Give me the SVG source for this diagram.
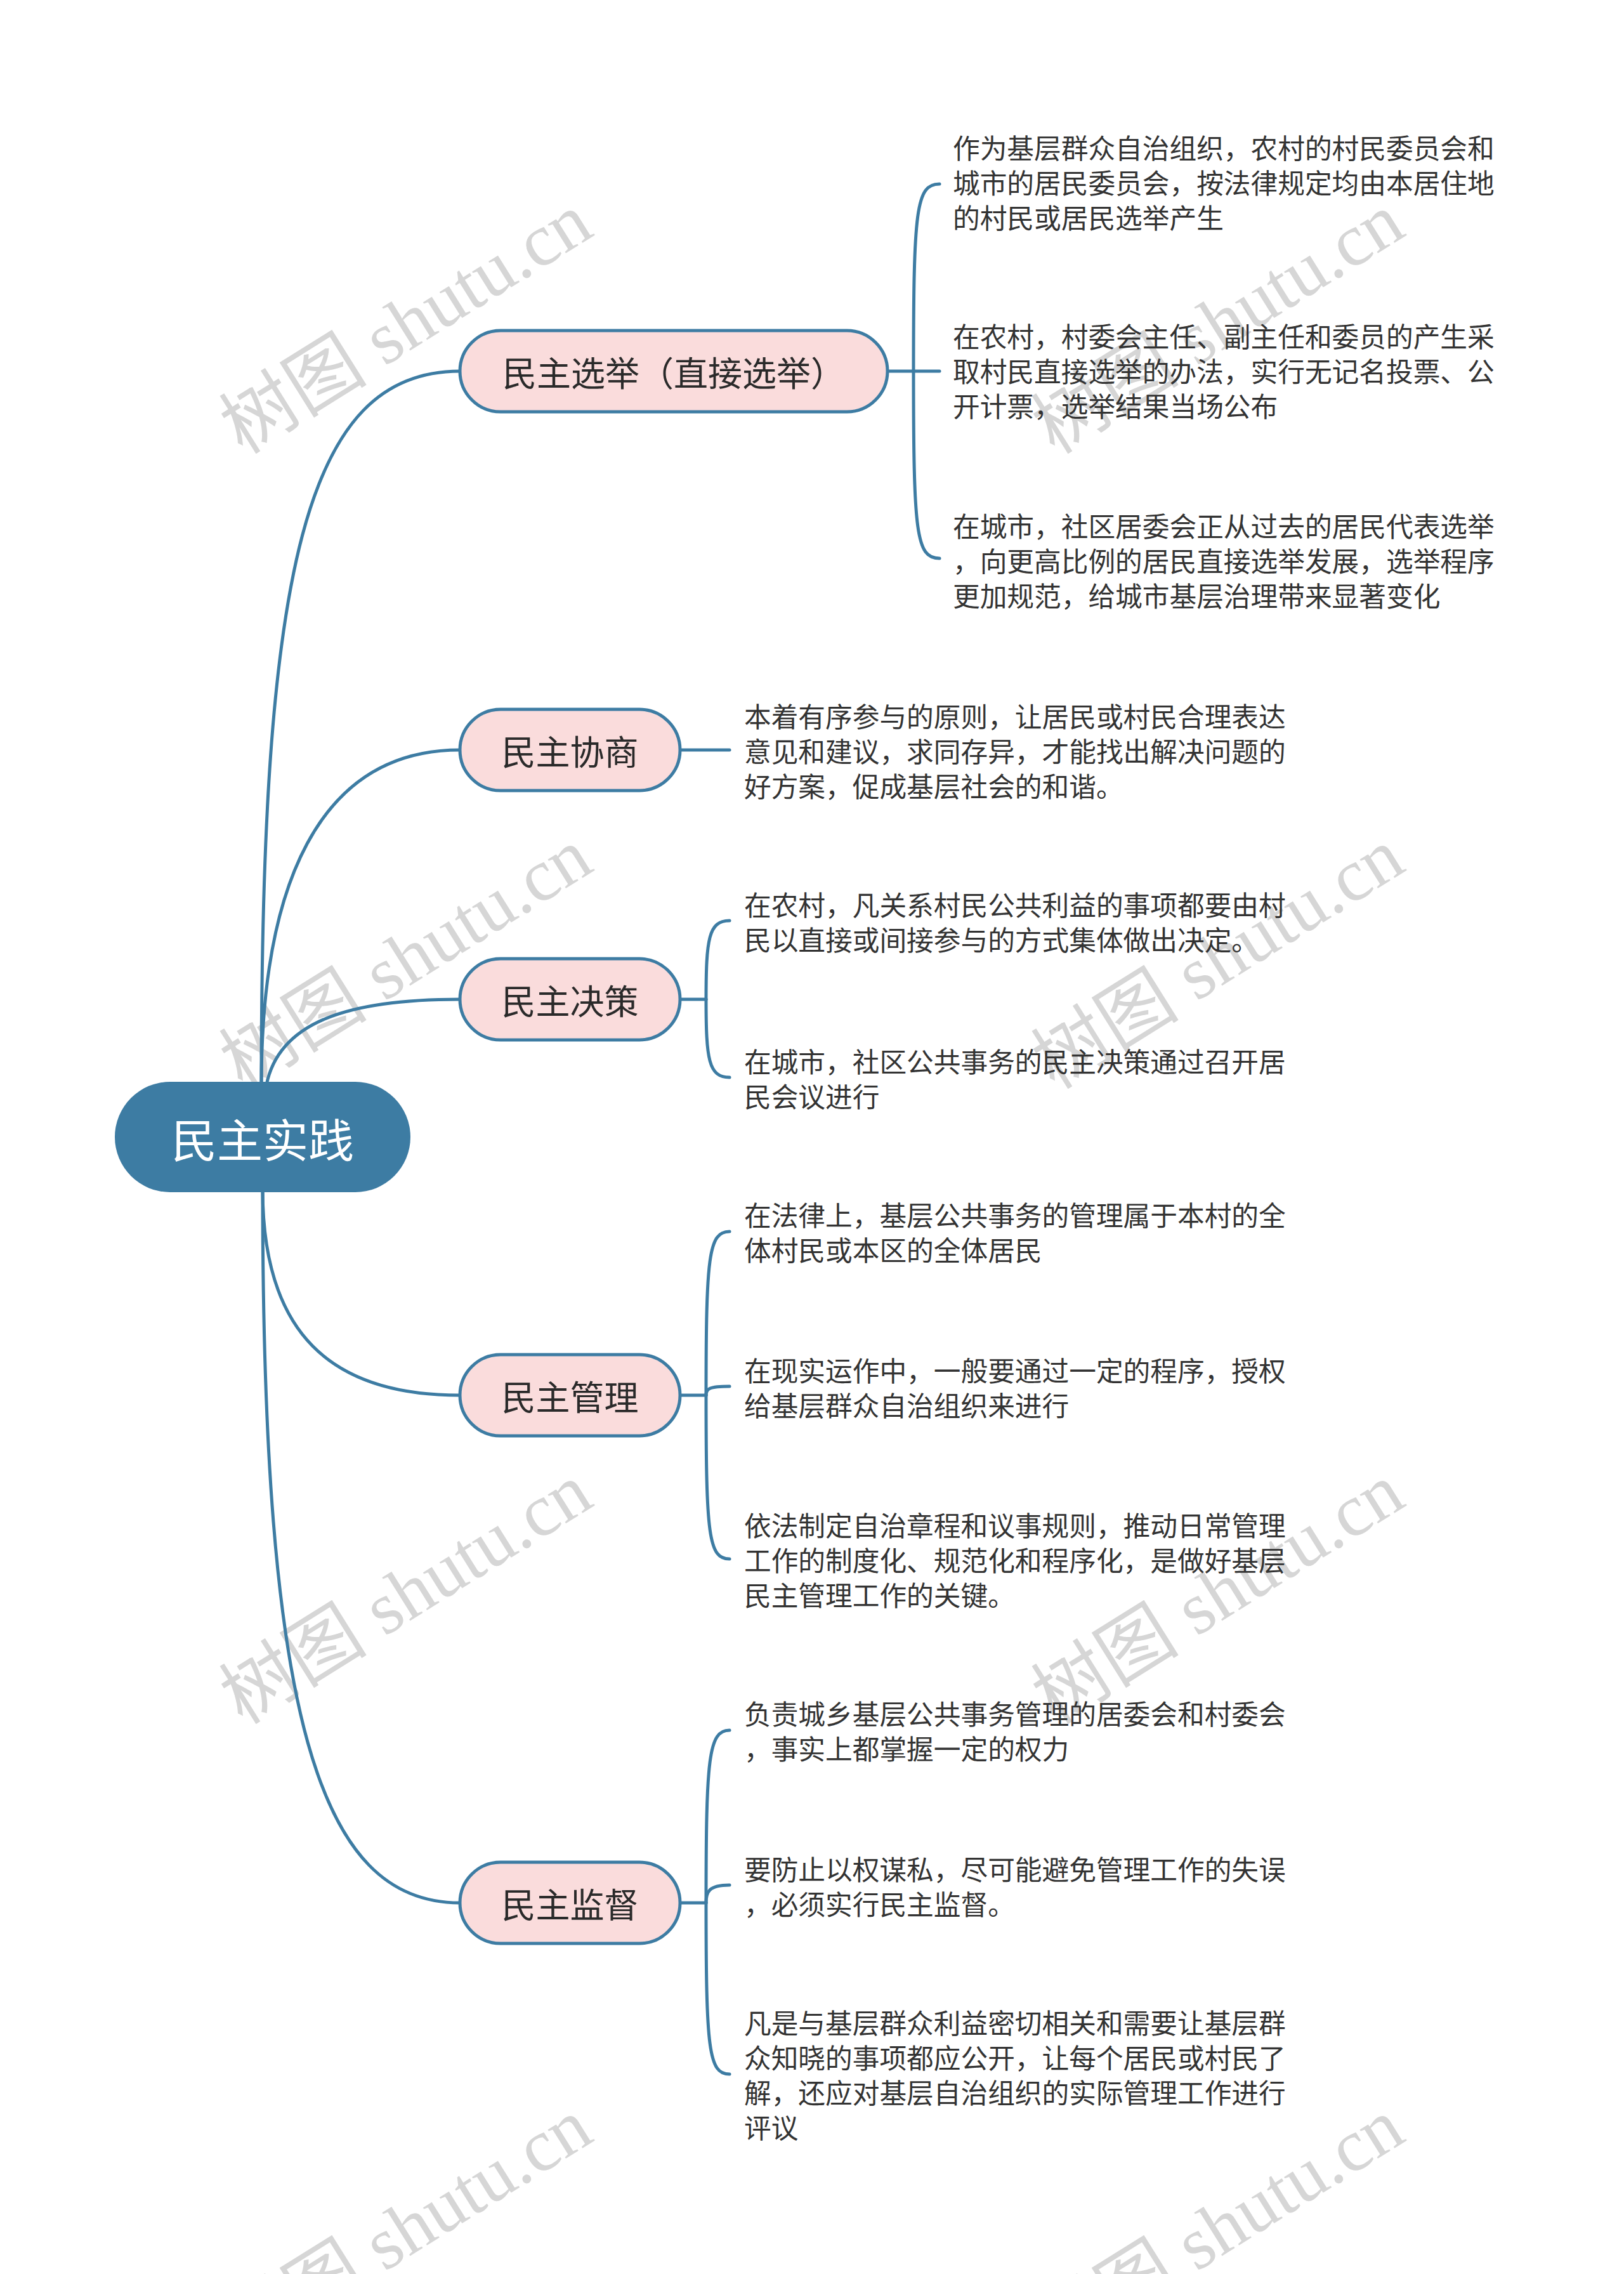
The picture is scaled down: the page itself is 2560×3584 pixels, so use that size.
<svg xmlns="http://www.w3.org/2000/svg" width="2560" height="3584" viewBox="0 0 2560 3584">
<style>
.wm{font-family:"Liberation Serif","Noto Sans CJK SC",serif;font-size:117px;fill:#d6d6d6;text-anchor:middle;dominant-baseline:central}
.ln{fill:none;stroke:#3d7ca3;stroke-width:5;stroke-linecap:round}
.nb{fill:#fadcdc;stroke:#3d7ca3;stroke-width:5}
.nt{font-family:"Noto Sans CJK SC","Noto Sans",sans-serif;font-size:54px;fill:#2a2a2a;text-anchor:middle;dominant-baseline:central}
.rt{font-family:"Noto Sans CJK SC","Noto Sans",sans-serif;font-size:72px;fill:#ffffff;text-anchor:middle;dominant-baseline:central}
.tx{font-family:"Noto Sans CJK SC","Noto Sans",sans-serif;font-size:42.7px;fill:#333333;dominant-baseline:central}
</style>
<rect width="2560" height="3584" fill="#ffffff"/>
<g id="watermarks">
<text class="wm" transform="translate(640 510) rotate(-32)">树图 shutu.cn</text>
<text class="wm" transform="translate(1920 510) rotate(-32)">树图 shutu.cn</text>
<text class="wm" transform="translate(640 1511) rotate(-32)">树图 shutu.cn</text>
<text class="wm" transform="translate(1920 1511) rotate(-32)">树图 shutu.cn</text>
<text class="wm" transform="translate(640 2512) rotate(-32)">树图 shutu.cn</text>
<text class="wm" transform="translate(1920 2512) rotate(-32)">树图 shutu.cn</text>
<text class="wm" transform="translate(640 3513) rotate(-32)">树图 shutu.cn</text>
<text class="wm" transform="translate(1920 3513) rotate(-32)">树图 shutu.cn</text>
</g>
<g id="connectors">
<path class="ln" d="M 412 1710 C 412 900, 480 585, 725 585"/>
<path class="ln" d="M 412 1710 C 412 1400, 500 1182, 725 1182"/>
<path class="ln" d="M 420 1710 C 440 1610, 550 1575, 725 1575"/>
<path class="ln" d="M 414 1874 C 414 2100, 520 2199, 725 2199"/>
<path class="ln" d="M 414 1874 C 414 2700, 500 2999, 725 2999"/>
<path class="ln" d="M 1399 585 H 1481"/>
<path class="ln" d="M 1440 585 C 1440 330, 1444 290, 1481 290"/>
<path class="ln" d="M 1440 585 C 1440 840, 1444 880, 1481 880"/>
<path class="ln" d="M 1072 1182 H 1150"/>
<path class="ln" d="M 1072 1575 H 1113"/>
<path class="ln" d="M 1113 1575 C 1113 1480, 1117 1451, 1150 1451"/>
<path class="ln" d="M 1113 1575 C 1113 1670, 1117 1698, 1150 1698"/>
<path class="ln" d="M 1072 2199 H 1113"/>
<path class="ln" d="M 1113 2199 C 1113 1980, 1117 1941, 1150 1941"/>
<path class="ln" d="M 1113 2199 C 1113 2189, 1117 2185, 1150 2185"/>
<path class="ln" d="M 1113 2199 C 1113 2420, 1117 2457, 1150 2457"/>
<path class="ln" d="M 1072 2999 H 1113"/>
<path class="ln" d="M 1113 2999 C 1113 2770, 1117 2727, 1150 2727"/>
<path class="ln" d="M 1113 2999 C 1113 2982, 1117 2971, 1150 2971"/>
<path class="ln" d="M 1113 2999 C 1113 3230, 1117 3269, 1150 3269"/>
</g>
<g id="root">
<rect x="181" y="1705" width="466" height="174" rx="87" fill="#3d7ca3"/>
<text class="rt" x="414" y="1792">民主实践</text>
</g>
<g id="n1">
<rect class="nb" x="725" y="521" width="674" height="128" rx="64"/>
<text class="nt" x="1062" y="585">民主选举（直接选举）</text>
</g>
<g id="n2">
<rect class="nb" x="725" y="1118" width="347" height="128" rx="64"/>
<text class="nt" x="898.5" y="1182">民主协商</text>
</g>
<g id="n3">
<rect class="nb" x="725" y="1511" width="347" height="128" rx="64"/>
<text class="nt" x="898.5" y="1575">民主决策</text>
</g>
<g id="n4">
<rect class="nb" x="725" y="2135" width="347" height="128" rx="64"/>
<text class="nt" x="898.5" y="2199">民主管理</text>
</g>
<g id="n5">
<rect class="nb" x="725" y="2935" width="347" height="128" rx="64"/>
<text class="nt" x="898.5" y="2999">民主监督</text>
</g>
<g id="n1c1"><text class="tx" x="1502" y="231">作为基层群众自治组织，农村的村民委员会和<tspan x="1502" dy="55">城市的居民委员会，按法律规定均由本居住地</tspan><tspan x="1502" dy="55">的村民或居民选举产生</tspan></text></g>
<g id="n1c2"><text class="tx" x="1502" y="528">在农村，村委会主任、副主任和委员的产生采<tspan x="1502" dy="55">取村民直接选举的办法，实行无记名投票、公</tspan><tspan x="1502" dy="55">开计票，选举结果当场公布</tspan></text></g>
<g id="n1c3"><text class="tx" x="1502" y="827">在城市，社区居委会正从过去的居民代表选举<tspan x="1502" dy="55">，向更高比例的居民直接选举发展，选举程序</tspan><tspan x="1502" dy="55">更加规范，给城市基层治理带来显著变化</tspan></text></g>
<g id="n2c1"><text class="tx" x="1173" y="1127">本着有序参与的原则，让居民或村民合理表达<tspan x="1173" dy="55">意见和建议，求同存异，才能找出解决问题的</tspan><tspan x="1173" dy="55">好方案，促成基层社会的和谐。</tspan></text></g>
<g id="n3c1"><text class="tx" x="1173" y="1424">在农村，凡关系村民公共利益的事项都要由村<tspan x="1173" dy="55">民以直接或间接参与的方式集体做出决定。</tspan></text></g>
<g id="n3c2"><text class="tx" x="1173" y="1671">在城市，社区公共事务的民主决策通过召开居<tspan x="1173" dy="55">民会议进行</tspan></text></g>
<g id="n4c1"><text class="tx" x="1173" y="1913">在法律上，基层公共事务的管理属于本村的全<tspan x="1173" dy="55">体村民或本区的全体居民</tspan></text></g>
<g id="n4c2"><text class="tx" x="1173" y="2158">在现实运作中，一般要通过一定的程序，授权<tspan x="1173" dy="55">给基层群众自治组织来进行</tspan></text></g>
<g id="n4c3"><text class="tx" x="1173" y="2402">依法制定自治章程和议事规则，推动日常管理<tspan x="1173" dy="55">工作的制度化、规范化和程序化，是做好基层</tspan><tspan x="1173" dy="55">民主管理工作的关键。</tspan></text></g>
<g id="n5c1"><text class="tx" x="1173" y="2699">负责城乡基层公共事务管理的居委会和村委会<tspan x="1173" dy="55">，事实上都掌握一定的权力</tspan></text></g>
<g id="n5c2"><text class="tx" x="1173" y="2944">要防止以权谋私，尽可能避免管理工作的失误<tspan x="1173" dy="55">，必须实行民主监督。</tspan></text></g>
<g id="n5c3"><text class="tx" x="1173" y="3186">凡是与基层群众利益密切相关和需要让基层群<tspan x="1173" dy="55">众知晓的事项都应公开，让每个居民或村民了</tspan><tspan x="1173" dy="55">解，还应对基层自治组织的实际管理工作进行</tspan><tspan x="1173" dy="55">评议</tspan></text></g>
</svg>
